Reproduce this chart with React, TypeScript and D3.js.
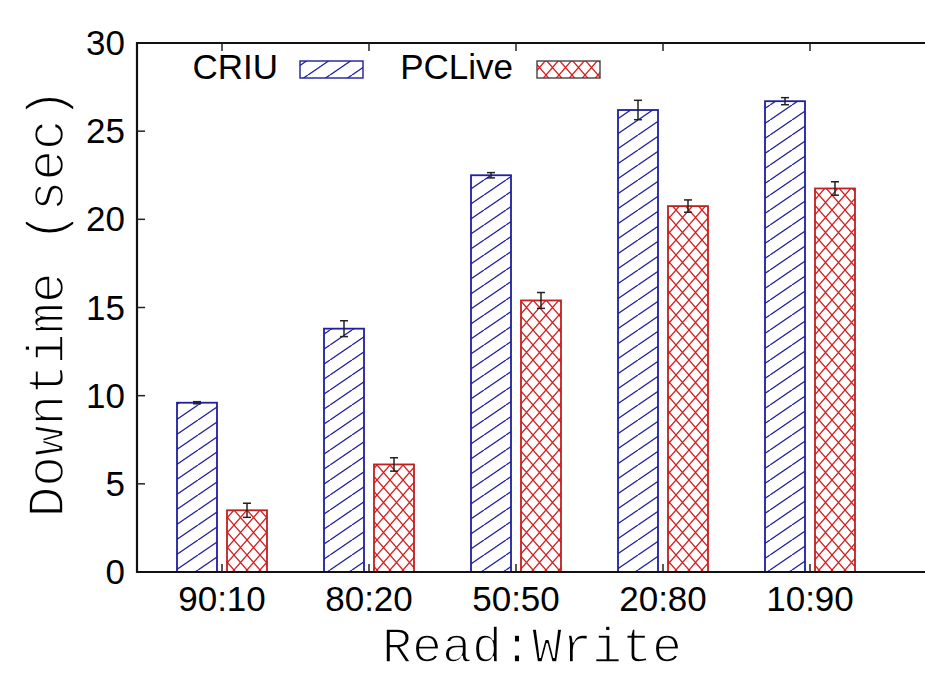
import React, { useEffect, useRef } from 'react';
import * as d3 from 'd3';

// data
const categories = ['90:10', '80:20', '50:50', '20:80', '10:90'];
const criu = [9.6, 13.8, 22.5, 26.2, 26.7];
const criuErr = [0.06, 0.45, 0.15, 0.55, 0.2];
const pclive = [3.5, 6.1, 15.4, 20.75, 21.75];
const pcliveErr = [0.4, 0.38, 0.45, 0.35, 0.38];
const yTicks = [0, 5, 10, 15, 20, 25, 30];
const seriesNames = ['CRIU', 'PCLive'];

const W = 925, H = 676;
const left = 137, top = 43, bottom = 572;
const BLUE = '#1f1fa0';
const RED = '#d62020';
const SANS = '"Liberation Sans", Arial, Helvetica, sans-serif';
const MONO = '"Courier New", "Liberation Mono", monospace';

export default function App() {
  const ref = useRef<SVGSVGElement>(null);

  useEffect(() => {
    const svg = d3.select(ref.current);
    svg.selectAll('*').remove();

    const defs = svg.append('defs');
    // diagonal hatch for CRIU
    const p1 = defs.append('pattern')
      .attr('id', 'hatchBlue')
      .attr('patternUnits', 'userSpaceOnUse')
      .attr('width', 22).attr('height', 15);
    p1.append('rect').attr('width', 22).attr('height', 15).attr('fill', 'white');
    p1.append('path')
      .attr('d', 'M0,15 L22,0 M-22,15 L0,0 M22,15 L44,0')
      .attr('stroke', BLUE).attr('stroke-width', 1.3);

    // cross hatch for PCLive
    const p2 = defs.append('pattern')
      .attr('id', 'hatchRed')
      .attr('patternUnits', 'userSpaceOnUse')
      .attr('width', 13).attr('height', 15);
    p2.append('rect').attr('width', 13).attr('height', 15).attr('fill', 'white');
    p2.append('path')
      .attr('d', 'M0,0 L13,15 M13,0 L0,15')
      .attr('stroke', RED).attr('stroke-width', 1.3);

    const x = d3.scalePoint<string>()
      .domain(categories)
      .range([222, 810]);
    const y = d3.scaleLinear().domain([0, 30]).range([bottom, top]);

    const barW = 40;
    const series = [
      { name: seriesNames[0], vals: criu, errs: criuErr, off: -45, fill: 'url(#hatchBlue)', stroke: BLUE },
      { name: seriesNames[1], vals: pclive, errs: pcliveErr, off: 5, fill: 'url(#hatchRed)', stroke: '#c02020' },
    ];

    // bottom ticks (inward), drawn under bars
    svg.append('g').selectAll('line').data(categories).enter().append('line')
      .attr('x1', d => x(d)!).attr('x2', d => x(d)!)
      .attr('y1', bottom).attr('y2', bottom - 8)
      .attr('stroke', '#222').attr('stroke-width', 1.5);

    series.forEach(s => {
      const g = svg.append('g');
      g.selectAll('rect').data(categories).enter().append('rect')
        .attr('x', d => x(d)! + s.off)
        .attr('y', (d, i) => y(s.vals[i]))
        .attr('width', barW)
        .attr('height', (d, i) => bottom - y(s.vals[i]))
        .attr('fill', s.fill)
        .attr('stroke', s.stroke)
        .attr('stroke-width', 1.8);

      // error bars
      const eg = svg.append('g').attr('stroke', '#222').attr('stroke-width', 1.5);
      categories.forEach((c, i) => {
        const cx = x(c)! + s.off + barW / 2;
        const y1 = y(s.vals[i] + s.errs[i]);
        const y2 = y(s.vals[i] - s.errs[i]);
        eg.append('line').attr('x1', cx).attr('x2', cx).attr('y1', y1).attr('y2', y2);
        eg.append('line').attr('x1', cx - 4).attr('x2', cx + 4).attr('y1', y1).attr('y2', y1);
        eg.append('line').attr('x1', cx - 4).attr('x2', cx + 4).attr('y1', y2).attr('y2', y2);
      });
    });

    // frame: left, top, bottom
    svg.append('path')
      .attr('d', `M${W},${top} L${left},${top} L${left},${bottom} L${W},${bottom}`)
      .attr('fill', 'none').attr('stroke', '#111').attr('stroke-width', 2.2);

    // top mirror ticks
    svg.append('g').selectAll('line').data(categories).enter().append('line')
      .attr('x1', d => x(d)!).attr('x2', d => x(d)!)
      .attr('y1', top).attr('y2', top + 8)
      .attr('stroke', '#222').attr('stroke-width', 1.5);

    // y ticks
    const yg = svg.append('g');
    yg.selectAll('line').data(yTicks.slice(1, -1)).enter().append('line')
      .attr('x1', left).attr('x2', left + 8)
      .attr('y1', d => y(d)).attr('y2', d => y(d))
      .attr('stroke', '#222').attr('stroke-width', 1.5);
    yg.selectAll('text').data(yTicks).enter().append('text')
      .attr('x', 125).attr('y', d => y(d) + 12)
      .attr('text-anchor', 'end')
      .style('font-family', SANS).style('font-size', '35px')
      .text(d => d);

    // x tick labels
    svg.append('g').selectAll('text').data(categories).enter().append('text')
      .attr('x', d => x(d)!).attr('y', 611)
      .attr('text-anchor', 'middle')
      .style('font-family', SANS).style('font-size', '35px')
      .text(d => d);

    // axis titles (thinned with a white outline to look like Courier)
    svg.append('text')
      .attr('x', 532).attr('y', 662)
      .attr('text-anchor', 'middle')
      .style('font-family', MONO).style('font-size', '50px')
      .attr('stroke', 'white').attr('stroke-width', 1.6)
      .text('Read:Write');
    svg.append('text')
      .attr('transform', `translate(63,303) rotate(-90)`)
      .attr('text-anchor', 'middle')
      .style('font-family', MONO).style('font-size', '51px')
      .attr('stroke', 'white').attr('stroke-width', 1.6)
      .text('Downtime (sec)');

    // legend
    const lg = svg.append('g');
    const legendItems = [
      { name: seriesNames[0], tx: 278, sx: 300, fill: 'url(#hatchBlue)', stroke: BLUE },
      { name: seriesNames[1], tx: 513, sx: 537, fill: 'url(#hatchRed)', stroke: '#444' },
    ];
    legendItems.forEach(it => {
      lg.append('text')
        .attr('x', it.tx).attr('y', 79)
        .attr('text-anchor', 'end')
        .style('font-family', SANS).style('font-size', '35px')
        .text(it.name);
      lg.append('rect')
        .attr('x', it.sx).attr('y', 61)
        .attr('width', 63).attr('height', 17)
        .attr('fill', it.fill)
        .attr('stroke', it.stroke).attr('stroke-width', 1.4);
    });
  }, []);

  return (
    <svg ref={ref} width={W} height={H}
      style={{ position: 'absolute', left: 0, top: 0, background: 'white' }} />
  );
}
